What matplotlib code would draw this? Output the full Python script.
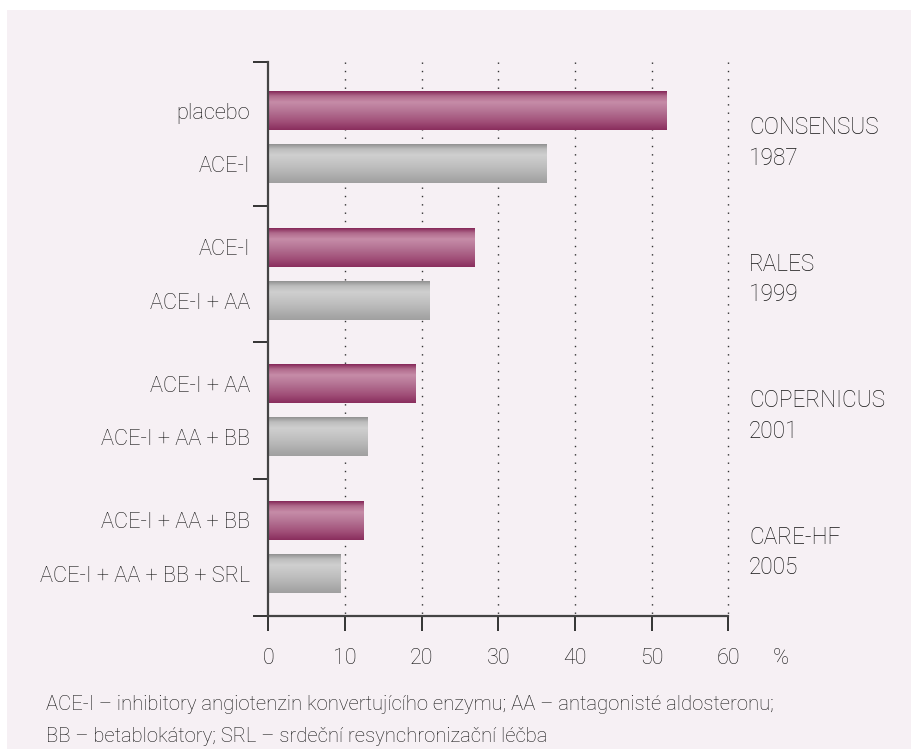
import matplotlib
matplotlib.use("Agg")
import matplotlib.pyplot as plt
import numpy as np
from matplotlib.colors import LinearSegmentedColormap
from matplotlib.patches import Rectangle

plt.rcParams['font.family'] = ['Roboto', 'DejaVu Sans']
plt.rcParams['font.weight'] = 'light'

# ---- data ----
studies = ["CONSENSUS\n1987", "RALES\n1999", "COPERNICUS\n2001", "CARE-HF\n2005"]
top_labels = ["placebo", "ACE-I", "ACE-I + AA", "ACE-I + AA + BB"]
bottom_labels = ["ACE-I", "ACE-I + AA", "ACE-I + AA + BB", "ACE-I + AA + BB + SRL"]
top_values = [52.0, 27.0, 19.3, 12.5]
bottom_values = [36.3, 21.1, 13.0, 9.5]
xticks = [0, 10, 20, 30, 40, 50, 60]
unit_label = "%"
footnote = ["ACE-I – inhibitory angiotenzin konvertujícího enzymu; AA – antagonisté aldosteronu;",
            "BB – betablokátory; SRL – srdeční resynchronizační léčba"]

TXT = '#151515'
W, H = 912, 749
fig = plt.figure(figsize=(W / 100, H / 100), dpi=100)
fig.patch.set_facecolor('white')
fig.patches.append(Rectangle((7 / W, 0), 1 - 7 / W, 1 - 10 / H, transform=fig.transFigure,
                             facecolor='#f6f0f4', edgecolor='none', zorder=-10))

ax = fig.add_axes([268.3 / W, (H - 616) / H, 460 / W, 554 / H])
ax.set_facecolor('none')

offset = 0.39
bh = 0.282
ytop, ybot = -0.359, 3.70

mag_cmap = LinearSegmentedColormap.from_list('mag', [
    (0.0, '#86295a'), (0.12, '#b06a8c'), (0.28, '#c68ca8'), (0.5, '#b57595'),
    (0.8, '#a04e77'), (1.0, '#8a2f5e')])
gray_cmap = LinearSegmentedColormap.from_list('gr', [
    (0.0, '#929292'), (0.12, '#bdbdbd'), (0.28, '#cfcfcf'), (0.6, '#bdbdbd'),
    (1.0, '#a0a0a0')])
grad = np.linspace(0, 1, 64).reshape(-1, 1)

for i in range(len(studies)):
    for j, (val, cmap) in enumerate([(top_values[i], mag_cmap), (bottom_values[i], gray_cmap)]):
        yc = i + j * offset
        ax.imshow(grad, cmap=cmap, aspect='auto', interpolation='bilinear',
                  extent=(0, val, yc + bh / 2, yc - bh / 2), zorder=3)

# dotted grid
for x in xticks[1:]:
    ax.plot([x, x], [ytop, ybot], ls=(0, (1, 5)), color='#333333', lw=1.0, zorder=1,
            clip_on=False)

ax.set_xlim(0, 60)
ax.set_ylim(ybot, ytop)

for s in ['top', 'right']:
    ax.spines[s].set_visible(False)
for s in ['left', 'bottom']:
    ax.spines[s].set_color('#444444')
    ax.spines[s].set_linewidth(1.6)
    ax.spines[s].set_zorder(4)

ax.set_xticks(xticks)
ax.set_xticklabels([str(x) for x in xticks], fontsize=15.5, color=TXT)
ax.tick_params(axis='x', length=11, width=1.4, color='#333333', pad=12, direction='out')

seps = [ytop] + [i + offset + (1 - offset) / 2 for i in range(len(studies) - 1)] + [ybot]
ax.set_yticks(seps)
ax.set_yticklabels([])
ax.tick_params(axis='y', which='major', length=11, width=1.4, color='#333333')

pos = []
labs = []
for i in range(len(studies)):
    pos += [i, i + offset]
    labs += [top_labels[i], bottom_labels[i]]
ax.set_yticks(pos, minor=True)
ax.set_yticklabels(labs, minor=True, fontsize=15.7, color=TXT)
ax.tick_params(axis='y', which='minor', length=0, pad=13)

for i, s in enumerate(studies):
    ax.text(62.7, i + offset / 2 + 0.04, s, fontsize=16.3, color=TXT, va='center', ha='left',
            linespacing=1.4)

fig.text(773 / W, 1 - 658 / H, unit_label, fontsize=15.5, color=TXT, va='center', ha='left')

fig.text(46 / W, 1 - 704 / H, footnote[0], fontsize=14.6, color=TXT, va='center')
fig.text(46 / W, 1 - 737 / H, footnote[1], fontsize=14.6, color=TXT, va='center')

fig.savefig('out.png', dpi=100, facecolor=fig.get_facecolor())
